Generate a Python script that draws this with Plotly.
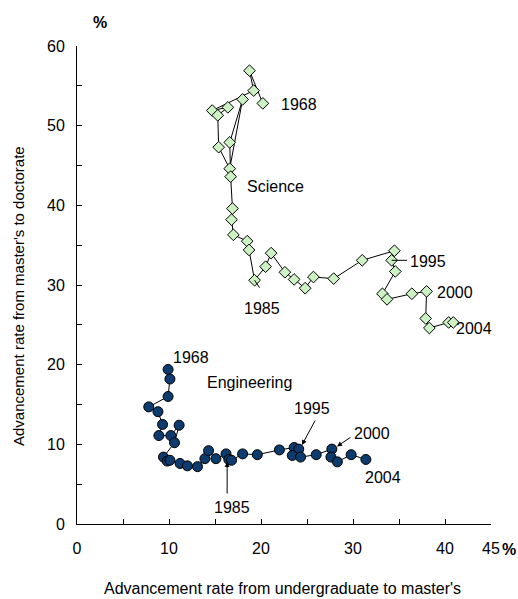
import plotly.graph_objects as go

# Science: (undergrad->master's, master's->doctorate), 1968 ... 2004
sci_x = [20.2, 18.75, 19.2, 14.7, 16.4, 15.3, 15.4, 16.6, 18.0, 16.6, 16.7, 16.9, 16.8, 17.0, 18.5, 18.7,
         19.3, 20.5, 21.1, 22.6, 23.6, 24.8, 25.7, 27.9, 31.0, 34.5, 34.2, 34.6, 33.2, 33.7, 36.4, 38.0,
         37.9, 38.3, 40.4, 40.9]
sci_y = [52.8, 56.9, 54.4, 51.9, 52.3, 51.3, 47.3, 44.6, 53.3, 47.9, 43.6, 39.6, 38.2, 36.3, 35.5, 34.4,
         30.6, 32.3, 34.0, 31.6, 30.7, 29.6, 31.0, 30.8, 33.1, 34.3, 33.1, 31.7, 28.9, 28.2, 28.9, 29.2,
         25.8, 24.6, 25.3, 25.3]

# Engineering
eng_x = [9.9, 10.1, 9.9, 7.8, 8.8, 9.3, 8.9, 10.2, 11.1, 10.6, 9.4, 9.8, 10.1, 11.2, 12.0, 13.1, 13.9,
         14.3, 15.1, 16.2, 16.5, 16.8, 18.0, 19.6, 22.0, 23.6, 24.1, 23.4, 24.3, 26.0, 27.7, 27.6, 28.3,
         29.8, 31.4]
eng_y = [19.4, 18.2, 16.0, 14.7, 14.1, 12.5, 11.1, 11.1, 12.4, 10.2, 8.4, 7.9, 8.0, 7.6, 7.3, 7.2, 8.2,
         9.2, 8.2, 8.8, 8.1, 8.0, 8.8, 8.7, 9.3, 9.6, 9.4, 8.6, 8.4, 8.7, 9.4, 8.4, 7.8, 8.7, 8.1]

x_tickvals = [0, 5, 10, 15, 20, 25, 30, 35, 40, 45]
x_ticktext = ["0", "", "10", "", "20", "", "30", "", "40", "45"]
y_tickvals = [0, 5, 10, 15, 20, 25, 30, 35, 40, 45, 50, 55, 60]
y_ticktext = ["0", "", "10", "", "20", "", "30", "", "40", "", "50", "", "60"]

FONT = "Liberation Sans, Arial, sans-serif"
FS = 16

L, R, T, B = 77, 27, 46, 75
W, H = 518, 599

fig = go.Figure()
fig.add_trace(go.Scatter(
    x=sci_x, y=sci_y, mode="lines+markers", name="Science",
    line=dict(color="black", width=1),
    marker=dict(symbol="diamond", size=9, color="#ccf2c4", line=dict(color="black", width=1)),
))
fig.add_trace(go.Scatter(
    x=eng_x, y=eng_y, mode="lines+markers", name="Engineering",
    line=dict(color="black", width=1),
    marker=dict(symbol="circle", size=10, color="#0d3b6e", line=dict(color="black", width=1)),
))

def txt(x, y, s):
    fig.add_annotation(x=x, y=y, xref="x", yref="y", text=s,
                       showarrow=False, font=dict(family=FONT, size=FS, color="black"))

def arrow(x, y, ax, ay, head=2):
    fig.add_annotation(x=x, y=y, xref="x", yref="y", text="", showarrow=True,
                       ax=ax, ay=ay, arrowhead=head, arrowsize=1, arrowwidth=1,
                       arrowcolor="black", standoff=0)

# Science labels
txt(24.16, 52.6, "1968")
txt(21.6, 42.4, "Science")
txt(20.1, 27.1, "1985")
txt(38.1, 33.0, "1995")
txt(41.1, 29.0, "2000")
txt(43.2, 24.5, "2004")
arrow(19.3, 30.6, 6, 9, head=0)
arrow(34.2, 33.1, 17, 0, head=0)

# Engineering labels
txt(12.35, 20.95, "1968")
txt(18.7, 17.7, "Engineering")
txt(25.5, 14.55, "1995")
txt(32.1, 11.3, "2000")
txt(33.25, 5.85, "2004")
txt(16.9, 2.1, "1985")
arrow(16.32, 7.78, 0, 33)
arrow(24.45, 9.91, 14, -26)
arrow(28.26, 9.74, 15, -10)

pw, ph = W - L - R, H - T - B
def paper_xy(px, py):
    return (px - L) / pw, (H - B - py) / ph

for (px, py, s, ang, fs) in [(100, 22, "<b>%</b>", 0, FS), (509, 549, "<b>%</b>", 0, FS),
                             (282, 588, "Advancement rate from undergraduate to master's", 0, FS),
                             (18, 296, "Advancement rate from master's to doctorate", -90, 15)]:
    xx, yy = paper_xy(px, py)
    fig.add_annotation(x=xx, y=yy, xref="paper", yref="paper", text=s, showarrow=False,
                       textangle=ang, xanchor="center", yanchor="middle",
                       font=dict(family=FONT, size=fs, color="black"))

fig.update_layout(
    width=W, height=H,
    margin=dict(l=L, r=R, t=T, b=B),
    paper_bgcolor="white", plot_bgcolor="white",
    showlegend=False,
    font=dict(family=FONT, size=FS, color="black"),
    xaxis=dict(range=[0, 45], tickvals=x_tickvals, ticktext=x_ticktext, ticks="inside",
               ticklen=5, tickcolor="black", showline=True, linecolor="black", linewidth=1,
               showgrid=False, zeroline=False, ticklabelstandoff=10, automargin=False,
               tickfont=dict(family=FONT, size=FS, color="black")),
    yaxis=dict(range=[0, 60], tickvals=y_tickvals, ticktext=y_ticktext, ticks="inside",
               ticklen=5, tickcolor="black", showline=True, linecolor="black", linewidth=1,
               showgrid=False, zeroline=False, ticklabelstandoff=8, automargin=False,
               tickfont=dict(family=FONT, size=FS, color="black")),
)

fig.write_html("out.html", config={"displayModeBar": False},
               post_script="document.body.style.margin='0';document.body.style.overflow='hidden';")
